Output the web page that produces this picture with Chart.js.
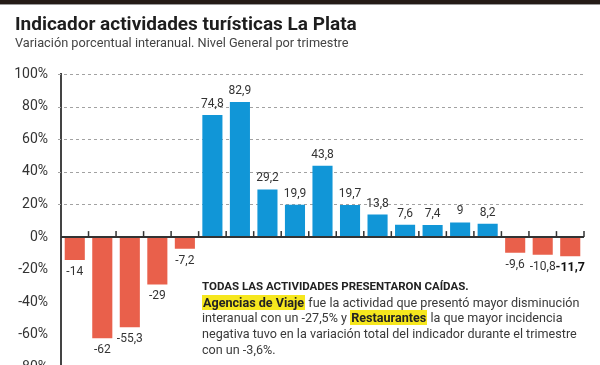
<!DOCTYPE html>
<html lang="es">
<head>
<meta charset="utf-8">
<script src="https://cdn.jsdelivr.net/npm/chart.js@4.4.1/dist/chart.umd.min.js"></script>
<style>
  html, body { margin: 0; padding: 0; background: #fff; }
  body { width: 600px; height: 365px; overflow: hidden; position: relative; font-family: Roboto, "Liberation Sans", sans-serif; color: #333; }
  .topbar { position: absolute; left: 0; top: 0; width: 600px; height: 4px; background: #241b16; border-bottom: 1px solid #9a9a9a; }
  .title { position: absolute; left: 15px; top: 12px; font-size: 19px; font-weight: 700; color: #1e1e1e; white-space: nowrap; }
  .subtitle { position: absolute; left: 15px; top: 35px; font-size: 12.75px; color: #444; white-space: nowrap; }
  .chart-box { position: absolute; left: 0; top: 0; width: 600px; height: 389px; }
  .note { position: absolute; left: 202px; top: 279px; width: 390px; font-size: 12.6px; line-height: 15.7px; color: #3a3a3a; }
  .note .head { font-weight: 700; font-size: 11.5px; color: #222; text-transform: uppercase; }
  .note b { background: #f6e71e; color: #222; padding: 0 1px; }
</style>
</head>
<body>
<div class="chart-box"><canvas id="grafTuristico"></canvas></div>
<div class="topbar"></div>
<div class="title">Indicador actividades turísticas La Plata</div>
<div class="subtitle">Variación porcentual interanual. Nivel General por trimestre</div>
<div class="note">
  <div class="head">Todas las actividades presentaron caídas.</div>
  <div><b>Agencias de Viaje</b> fue la actividad que presentó mayor disminución interanual con un -27,5% y <b>Restaurantes</b> la que mayor incidencia negativa tuvo en la variación total del indicador durante el trimestre con un -3,6%.</div>
</div>

<script>
// Trimestres (sin etiquetas visibles en el gráfico original)
const trimestres = ['I-20', 'II-20', 'III-20', 'IV-20', 'I-21', 'II-21', 'III-21', 'IV-21',
                    'I-22', 'II-22', 'III-22', 'IV-22', 'I-23', 'II-23', 'III-23', 'IV-23',
                    'I-24', 'II-24', 'III-24'];
const variacion = [-14, -62, -55.3, -29, -7.2, 74.8, 82.9, 29.2,
                   19.9, 43.8, 19.7, 13.8, 7.6, 7.4, 9, 8.2,
                   -9.6, -10.8, -11.7];
const ticksY = [100, 80, 60, 40, 20, 0, -20, -40, -60, -80];

const AZUL = '#1196d7';
const ROJO = '#e9604b';

const fmt = v => String(v).replace('.', ',');

// etiquetas de valor sobre / bajo cada barra
const etiquetasPlugin = {
    id: 'etiquetas',
    afterDatasetsDraw(chart) {
        const ctx = chart.ctx;
        const meta = chart.getDatasetMeta(0);
        const ultimo = variacion.length - 1;
        ctx.save();
        ctx.textAlign = 'center';
        ctx.textBaseline = 'middle';
        meta.data.forEach((bar, i) => {
            const v = variacion[i];
            ctx.fillStyle = i === ultimo ? '#111' : '#333';
            ctx.font = (i === ultimo ? 'bold 12.5px ' : '12px ') + 'Roboto, sans-serif';
            const y = v >= 0 ? bar.y - 11 : bar.y + 12;
            ctx.fillText(fmt(v), bar.x, y);
        });
        ctx.restore();
    }
};

// grilla punteada (solo valores positivos), antes de dibujar las barras
const grillaPlugin = {
    id: 'grilla',
    beforeDatasetsDraw(chart) {
        const { ctx, chartArea, scales } = chart;
        ctx.save();
        ctx.strokeStyle = '#a2a2a2';
        ctx.lineWidth = 1;
        ctx.setLineDash([3, 3]);
        ticksY.filter(v => v > 0).forEach(v => {
            const y = Math.round(scales.y.getPixelForValue(v)) + 0.5;
            ctx.beginPath();
            ctx.moveTo(chartArea.left - 3, y);
            ctx.lineTo(chartArea.right, y);
            ctx.stroke();
        });
        ctx.restore();
    }
};

// eje cero con marcas hacia arriba
const ejeCeroPlugin = {
    id: 'ejeCero',
    afterDatasetsDraw(chart) {
        const { ctx, chartArea, scales } = chart;
        const y0 = scales.y.getPixelForValue(0);
        const n = trimestres.length;
        const paso = (chartArea.right - chartArea.left) / n;
        ctx.save();
        ctx.strokeStyle = '#333';
        ctx.lineWidth = 2;
        ctx.beginPath();
        ctx.moveTo(chartArea.left, y0);
        ctx.lineTo(chartArea.right, y0);
        ctx.stroke();
        ctx.lineWidth = 1.5;
        for (let i = 1; i <= n; i++) {
            const x = chartArea.left + paso * i;
            ctx.beginPath();
            ctx.moveTo(x, y0);
            ctx.lineTo(x, y0 - 6);
            ctx.stroke();
        }
        ctx.restore();
    }
};

new Chart(document.getElementById('grafTuristico'), {
    type: 'bar',
    data: {
        labels: trimestres,
        datasets: [{
            data: variacion,
            backgroundColor: c => (c.raw >= 0 ? AZUL : ROJO),
            borderWidth: 0,
            categoryPercentage: 1,
            barPercentage: 0.73
        }]
    },
    options: {
        responsive: true,
        maintainAspectRatio: false,
        animation: false,
        events: [],
        layout: { padding: { top: 74, right: 16, bottom: 14, left: 0 } },
        plugins: { legend: { display: false }, tooltip: { enabled: false } },
        scales: {
            x: { display: false },
            y: {
                min: -80,
                max: 100,
                afterFit: s => { s.width = 61; },
                afterBuildTicks: s => { s.ticks = ticksY.map(v => ({ value: v })); },
                ticks: {
                    padding: 13,
                    color: '#333',
                    font: { size: 14, family: 'Roboto, sans-serif' },
                    callback: v => v + '%'
                },
                grid: { display: false, drawTicks: false },
                border: { display: true, color: '#444', width: 2 }
            }
        }
    },
    plugins: [grillaPlugin, ejeCeroPlugin, etiquetasPlugin]
});
</script>
</body>
</html>
